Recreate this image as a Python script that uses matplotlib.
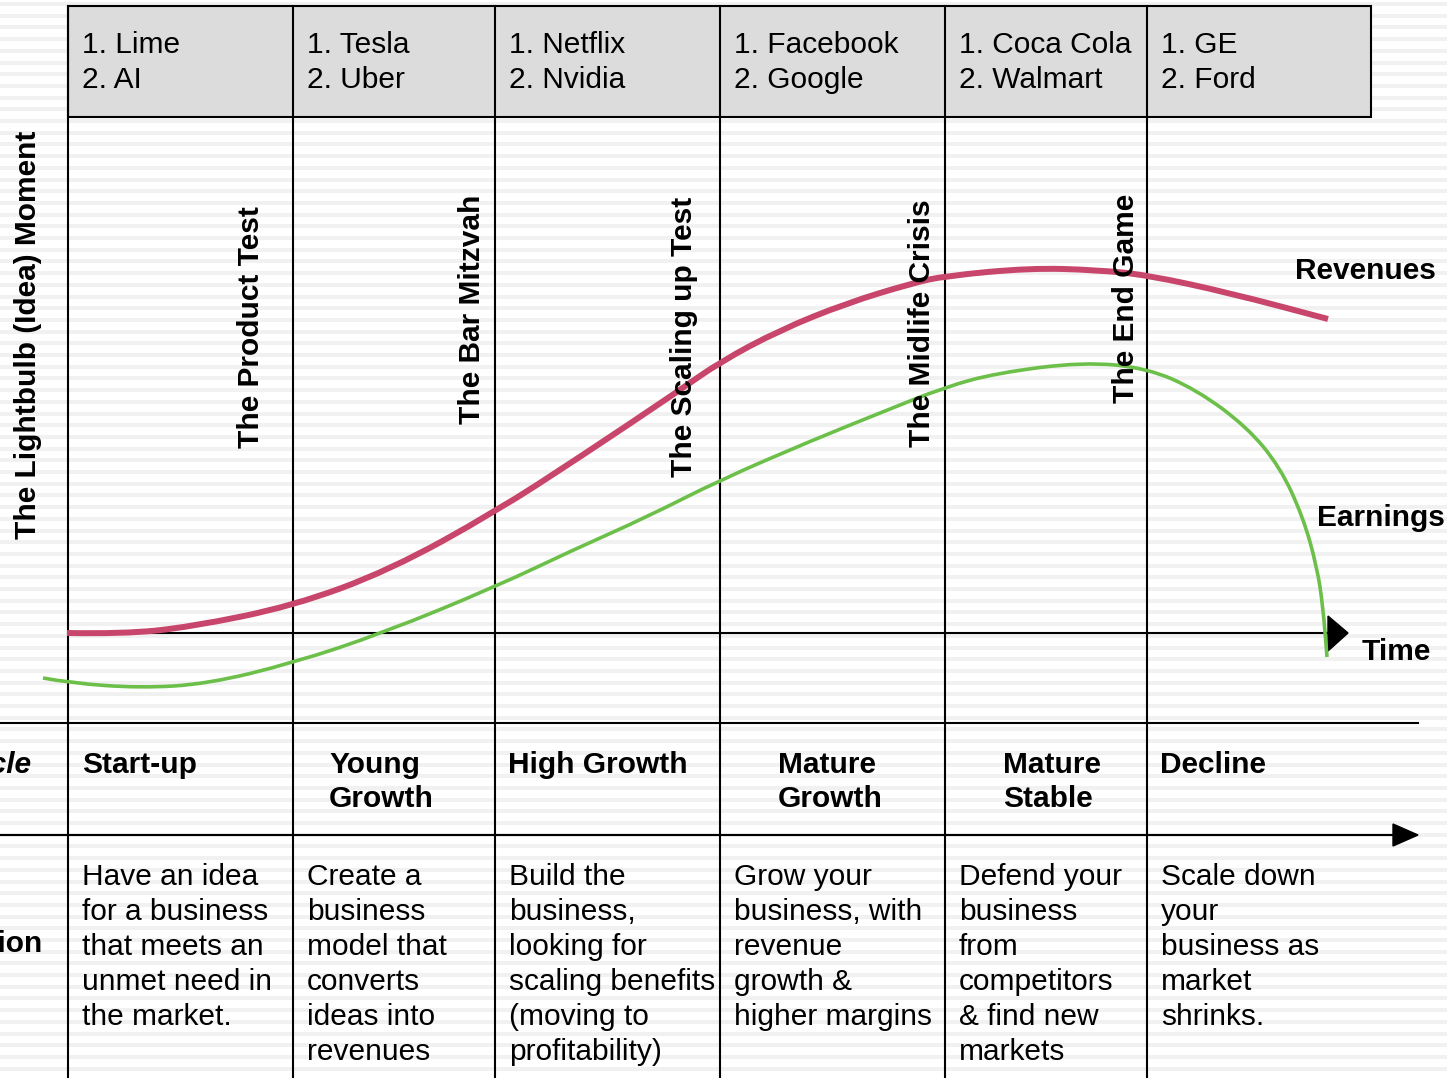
import numpy as np
import matplotlib.pyplot as plt
from matplotlib.patches import Rectangle, Polygon, PathPatch
from matplotlib.path import Path

# ---- data (pixel coordinates, y grows downward) ----
COL_EDGES = [68, 293, 495, 720, 945, 1147, 1371]

EXAMPLES = [
    ["1. Lime", "2. AI"],
    ["1. Tesla", "2. Uber"],
    ["1. Netflix", "2. Nvidia"],
    ["1. Facebook", "2. Google"],
    ["1. Coca Cola", "2. Walmart"],
    ["1. GE", "2. Ford"],
]

MOMENTS = ["The Lightbulb (Idea) Moment", "The Product Test", "The Bar Mitzvah",
           "The Scaling up Test", "The Midlife Crisis", "The End Game"]

STAGES = [["Start-up"], ["Young", "Growth"], ["High Growth"],
          ["Mature", "Growth"], ["Mature", "Stable"], ["Decline"]]

DESCRIPTIONS = [
    ["Have an idea", "for a business", "that meets an", "unmet need in", "the market."],
    ["Create a", "business", "model that", "converts", "ideas into", "revenues"],
    ["Build the", "business,", "looking for", "scaling benefits", "(moving to", "profitability)"],
    ["Grow your", "business, with", "revenue", "growth &", "higher margins"],
    ["Defend your", "business", "from", "competitors", "& find new", "markets"],
    ["Scale down", "your", "business as", "market", "shrinks."],
]

rev_x = [67, 123, 190, 293, 390, 495, 580, 680, 720, 780, 847, 913, 945,
         1030, 1097, 1147, 1230, 1328]
rev_y = [633, 634, 627, 606, 570, 512, 457, 390, 362, 330, 303, 283, 276,
         268, 270, 275, 293, 319]

earn_x = [43, 70, 140, 207, 293, 383, 495, 573, 647, 720, 813, 880, 945,
          997, 1083, 1147, 1197, 1247, 1280, 1303, 1317, 1323, 1327]
earn_y = [678, 683, 688, 684, 663, 633, 587, 550, 517, 480, 440, 413, 387,
          373, 362, 368, 390, 427, 467, 517, 567, 607, 657]

REV_COLOR = "#c8466b"
EARN_COLOR = "#6cc04a"

W, H = 1447, 1078
FONT = "Liberation Sans"
FS = 21.5


def smooth_path(xs, ys):
    # quadratic bezier through midpoints, read points used as control points
    pts = list(zip(xs, ys))
    verts = [pts[0]]
    codes = [Path.MOVETO]
    for i in range(1, len(pts) - 1):
        mid = ((pts[i][0] + pts[i + 1][0]) / 2, (pts[i][1] + pts[i + 1][1]) / 2)
        verts += [pts[i], mid]
        codes += [Path.CURVE3, Path.CURVE3]
    verts.append(pts[-1])
    codes.append(Path.LINETO)
    return Path(verts, codes)


fig = plt.figure(figsize=(W / 100, H / 100), dpi=100)
ax = fig.add_axes([0, 0, 1, 1])
ax.set_xlim(0, W)
ax.set_ylim(H, 0)
ax.axis("off")

# faint striped background
for y in np.arange(2, H, 11.7):
    ax.axhspan(y, y + 4, color="#f1f1f1", lw=0, zorder=0)

# header box
ax.add_patch(Rectangle((COL_EDGES[0], 6), COL_EDGES[-1] - COL_EDGES[0], 111,
                       facecolor="#dcdcdc", edgecolor="black", lw=1.5, zorder=1))

# vertical column lines
for x in COL_EDGES[:-1]:
    ax.plot([x, x], [6, H], color="black", lw=1.5, zorder=2)

# horizontal rules
ax.plot([0, 1418], [723, 723], color="black", lw=1.5, zorder=2)
ax.plot([0, 1395], [835, 835], color="black", lw=1.5, zorder=2)
ax.add_patch(Polygon([[1393, 824], [1418, 835], [1393, 846]], closed=True,
                     color="black", zorder=2))

# time axis
ax.plot([68, 1330], [633, 633], color="black", lw=1.5, zorder=2)
ax.add_patch(Polygon([[1328, 616], [1348, 633], [1328, 651]], closed=True,
                     color="black", zorder=2))

# curves
ax.add_patch(PathPatch(smooth_path(rev_x, rev_y), facecolor="none",
                       edgecolor=REV_COLOR, lw=4.3, capstyle="butt", zorder=3))
ax.add_patch(PathPatch(smooth_path(earn_x, earn_y), facecolor="none",
                       edgecolor=EARN_COLOR, lw=2.6, capstyle="butt", zorder=3))

# header text
for i, lines in enumerate(EXAMPLES):
    x0 = COL_EDGES[i] + 14
    for j, t in enumerate(lines):
        ax.text(x0, 45 + 35 * j, t, fontsize=FS, family=FONT, va="center",
                ha="left", zorder=4)

# moment labels (rotated)
moment_pos = [(28, 335), (251, 327), (472, 309), (684, 337), (922, 323), (1126, 298)]
for t, (x, y) in zip(MOMENTS, moment_pos):
    ax.text(x, y, t, rotation=90, fontsize=FS, fontweight="bold", family=FONT,
            va="center", ha="center", zorder=4)

# curve labels
ax.text(1295, 271, "Revenues", fontsize=FS, fontweight="bold", family=FONT,
        va="center", ha="left", zorder=4)
ax.text(1317, 518, "Earnings", fontsize=FS, fontweight="bold", family=FONT,
        va="center", ha="left", zorder=4)
ax.text(1362, 652, "Time", fontsize=FS, fontweight="bold", family=FONT,
        va="center", ha="left", zorder=4)

# row labels cut off at the left edge (as in the reference)
ax.text(31, 765, "Life Cycle", fontsize=FS, fontweight="bold", style="italic",
        family=FONT, va="center", ha="right", zorder=4)
ax.text(42, 944, "Description", fontsize=FS, fontweight="bold",
        family=FONT, va="center", ha="right", zorder=4)

# stage names
stage_x = [82, 329, 508, 778, 1003, 1160]
for x, lines in zip(stage_x, STAGES):
    for j, t in enumerate(lines):
        ax.text(x, 765 + 34 * j, t, fontsize=FS, fontweight="bold", family=FONT,
                va="center", ha="left", zorder=4)

# descriptions
for i, lines in enumerate(DESCRIPTIONS):
    x0 = COL_EDGES[i] + 14
    for j, t in enumerate(lines):
        ax.text(x0, 877 + 35 * j, t, fontsize=FS, family=FONT, va="center",
                ha="left", zorder=4)

fig.savefig("out.png", dpi=100, facecolor="white")
